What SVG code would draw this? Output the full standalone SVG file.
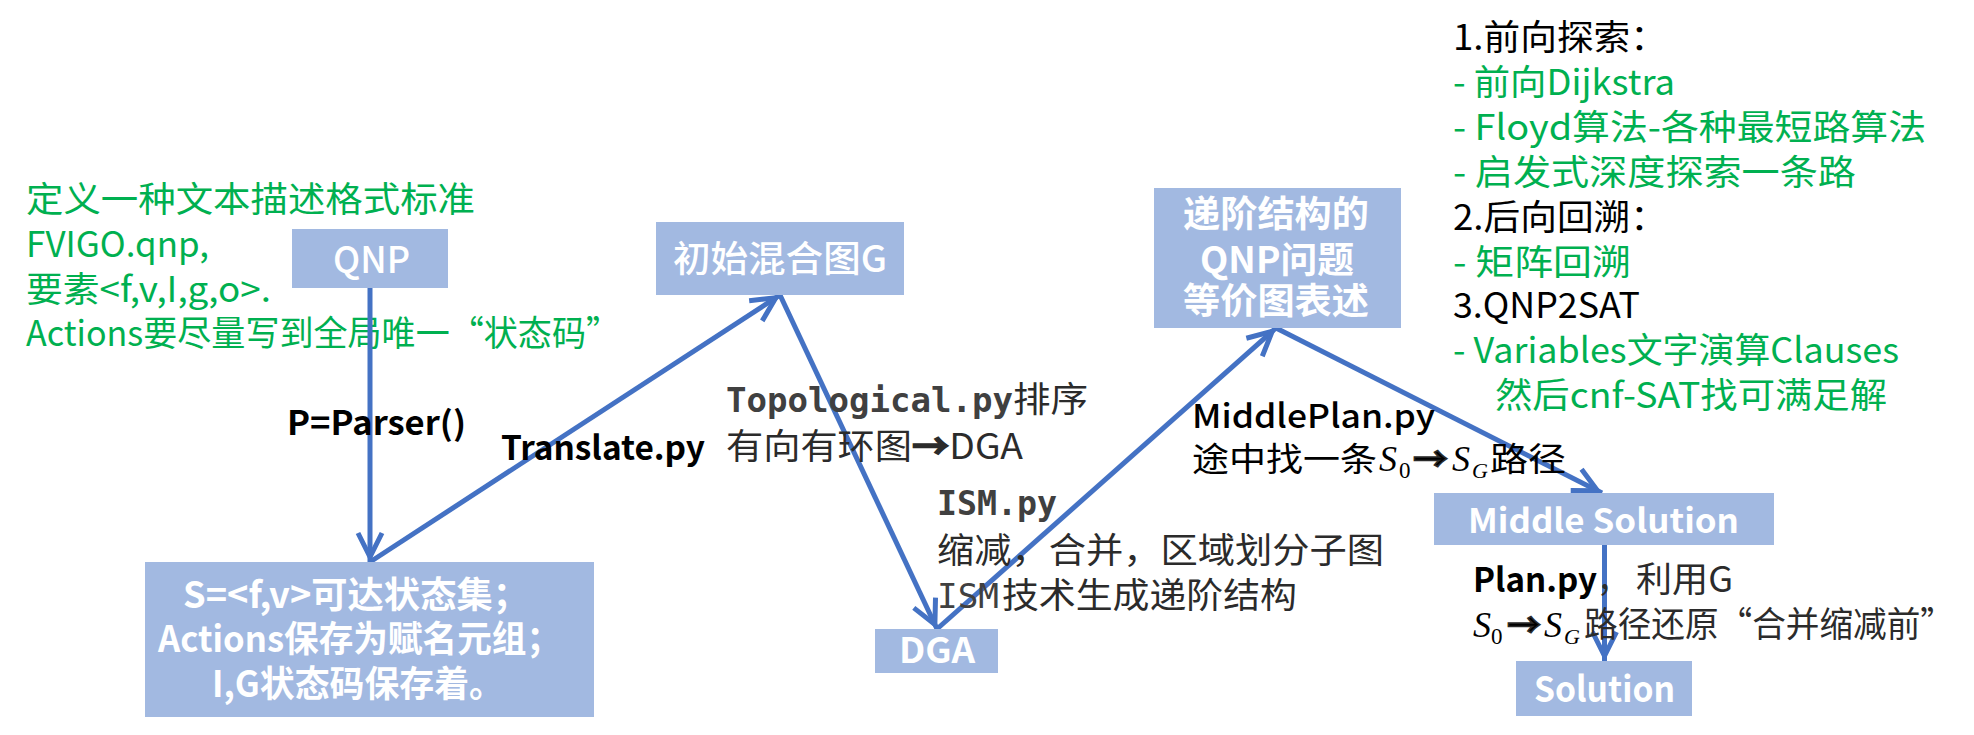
<svg xmlns="http://www.w3.org/2000/svg" width="1974" height="735" viewBox="0 0 1974 735">
<style>
.t{font-family:"Noto Sans CJK SC","Noto Sans",sans-serif;}
.g{fill:#00B050;font-size:35px;}
.k{fill:#000;font-size:35px;}
.box{fill:#A2B9E1;}
.bt{fill:#fff;font-weight:bold;}
.wt{fill:#fff;font-weight:500;}
.lab{fill:#000;font-size:33px;}
.gr{fill:#2b2b2b;font-size:35px;}
.mono{font-family:"DejaVu Sans Mono","Liberation Mono",monospace;fill:#404040;font-weight:bold;font-size:33px;}
.monor{font-family:"DejaVu Sans Mono","Liberation Mono",monospace;fill:#404040;font-weight:normal;font-size:33px;}
.ser{font-family:"Liberation Serif","DejaVu Serif",serif;fill:#000;}
.arr{stroke:#2b2b2b;stroke-width:1.5px;}
.conn line{stroke:#4472C4;stroke-width:5;fill:none;marker-end:url(#ah);}
</style>
<defs>
<marker id="ah" markerUnits="userSpaceOnUse" viewBox="-30 -20 40 40" markerWidth="40" markerHeight="40" refX="5" refY="0" orient="auto" overflow="visible">
<path d="M-24,-12 L0,0 L-24,12" fill="none" stroke="#4472C4" stroke-width="5"/>
</marker>
</defs>
<rect width="1974" height="735" fill="#fff"/>

<g id="note-left" class="t g">
<text x="26" y="212" textLength="449" lengthAdjust="spacingAndGlyphs">定义一种文本描述格式标准</text>
<text x="26" y="257" textLength="183" lengthAdjust="spacingAndGlyphs">FVIGO.qnp,</text>
<text x="26" y="302" textLength="245" lengthAdjust="spacingAndGlyphs">要素&lt;f,v,I,g,o&gt;.</text>
<text x="26" y="346" textLength="594" lengthAdjust="spacingAndGlyphs">Actions要尽量写到全局唯一“状态码”</text>
</g>

<g id="note-right" class="t">
<text class="k" x="1453" y="50" textLength="214" lengthAdjust="spacingAndGlyphs">1.前向探索：</text>
<text class="g" x="1453" y="95" textLength="222" lengthAdjust="spacingAndGlyphs">- 前向Dijkstra</text>
<text class="g" x="1453" y="140" textLength="473" lengthAdjust="spacingAndGlyphs">- Floyd算法-各种最短路算法</text>
<text class="g" x="1453" y="185" textLength="403" lengthAdjust="spacingAndGlyphs">- 启发式深度探索一条路</text>
<text class="k" x="1453" y="230" textLength="214" lengthAdjust="spacingAndGlyphs">2.后向回溯：</text>
<text class="g" x="1453" y="275" textLength="178" lengthAdjust="spacingAndGlyphs">- 矩阵回溯</text>
<text class="k" x="1453" y="318" textLength="187" lengthAdjust="spacingAndGlyphs">3.QNP2SAT</text>
<text class="g" x="1453" y="363" textLength="446" lengthAdjust="spacingAndGlyphs">- Variables文字演算Clauses</text>
<text class="g" x="1495" y="408" textLength="392" lengthAdjust="spacingAndGlyphs">然后cnf-SAT找可满足解</text>
</g>

<g id="conn" class="conn">
<line x1="370" y1="288" x2="370" y2="562"/>
<line x1="370" y1="562" x2="780" y2="295"/>
<line x1="780" y1="295" x2="937" y2="629"/>
<line x1="937" y1="629" x2="1276" y2="328"/>
<line x1="1276" y1="328" x2="1602" y2="493"/>
<line x1="1604.5" y1="545" x2="1604.5" y2="661"/>
</g>

<g id="node-qnp">
<rect class="box" x="292" y="229" width="156" height="59"/>
<text class="t wt" x="333" y="273" font-size="37" textLength="77" lengthAdjust="spacingAndGlyphs">QNP</text>
</g>

<g id="node-g">
<rect class="box" x="656" y="222" width="248" height="73"/>
<text class="t wt" x="673" y="272" font-size="36" textLength="214" lengthAdjust="spacingAndGlyphs">初始混合图G</text>
</g>

<g id="node-s">
<rect class="box" x="145" y="562" width="449" height="155"/>
<text class="t bt" x="183" y="608" font-size="36" textLength="346" lengthAdjust="spacingAndGlyphs">S=&lt;f,v&gt;可达状态集；</text>
<text class="t bt" x="158" y="652" font-size="36" textLength="403" lengthAdjust="spacingAndGlyphs">Actions保存为赋名元组；</text>
<text class="t bt" x="212" y="697" font-size="36" textLength="292" lengthAdjust="spacingAndGlyphs">I,G状态码保存着。</text>
</g>

<g id="node-dga">
<rect class="box" x="875" y="629" width="123" height="44"/>
<text class="t bt" x="899" y="663" font-size="35" textLength="76" lengthAdjust="spacingAndGlyphs">DGA</text>
</g>

<g id="node-ism">
<rect class="box" x="1154" y="188" width="247" height="140"/>
<text class="t bt" x="1183" y="227" font-size="36" textLength="186" lengthAdjust="spacingAndGlyphs">递阶结构的</text>
<text class="t bt" x="1200" y="273" font-size="36" textLength="154" lengthAdjust="spacingAndGlyphs">QNP问题</text>
<text class="t bt" x="1183" y="314" font-size="36" textLength="186" lengthAdjust="spacingAndGlyphs">等价图表述</text>
</g>

<g id="node-middle">
<rect class="box" x="1434" y="493" width="340" height="52"/>
<text class="t bt" x="1468" y="533" font-size="33" textLength="271" lengthAdjust="spacingAndGlyphs">Middle Solution</text>
</g>

<g id="node-solution">
<rect class="box" x="1516" y="661" width="176" height="55"/>
<text class="t bt" x="1534" y="702" font-size="35" textLength="141" lengthAdjust="spacingAndGlyphs">Solution</text>
</g>

<g id="labels" class="t">
<text class="lab" x="287" y="435" font-weight="bold" textLength="179" lengthAdjust="spacingAndGlyphs">P=Parser()</text>
<text class="lab" x="501" y="460" font-weight="bold" textLength="204" lengthAdjust="spacingAndGlyphs">Translate.py</text>

<text class="mono" x="726" y="412" textLength="287" lengthAdjust="spacingAndGlyphs">Topological.py</text>
<text class="gr" x="1013" y="412" textLength="75" lengthAdjust="spacingAndGlyphs">排序</text>
<text class="gr" x="726" y="459" textLength="297" lengthAdjust="spacingAndGlyphs">有向有环图<tspan class="arr" font-weight="bold">→</tspan>DGA</text>

<text class="mono" x="937" y="515" textLength="120" lengthAdjust="spacingAndGlyphs">ISM.py</text>
<text class="gr" x="937" y="563" textLength="447" lengthAdjust="spacingAndGlyphs">缩减，合并，区域划分子图</text>
<text class="monor" x="937" y="608" textLength="62" lengthAdjust="spacingAndGlyphs">ISM</text>
<text class="gr" x="1002" y="608" textLength="295" lengthAdjust="spacingAndGlyphs">技术生成递阶结构</text>

<text class="lab" x="1192" y="428" font-weight="500" textLength="243" lengthAdjust="spacingAndGlyphs">MiddlePlan.py</text>
<text class="lab" x="1192" y="471" font-size="35" textLength="185" lengthAdjust="spacingAndGlyphs">途中找一条</text>
<text class="ser" x="1379" y="471" font-size="36" font-style="italic">S</text>
<text class="ser" x="1399" y="478" font-size="23">0</text>
<text class="lab arr" x="1413" y="471" font-weight="bold" textLength="35" lengthAdjust="spacingAndGlyphs">→</text>
<text class="ser" x="1452" y="471" font-size="36" font-style="italic">S</text>
<text class="ser" x="1472" y="478" font-size="22" font-style="italic">G</text>
<text class="lab" x="1490" y="471" font-size="35" textLength="76" lengthAdjust="spacingAndGlyphs">路径</text>

<text class="lab" x="1473" y="592" font-size="35" font-weight="bold" textLength="124" lengthAdjust="spacingAndGlyphs">Plan.py</text>
<text class="gr" x="1597" y="592" textLength="32" lengthAdjust="spacingAndGlyphs">，</text>
<text class="gr" x="1636" y="592" textLength="97" lengthAdjust="spacingAndGlyphs">利用G</text>
<text class="ser" x="1473" y="637" font-size="36" font-style="italic">S</text>
<text class="ser" x="1491" y="644" font-size="23">0</text>
<text class="lab arr" x="1507" y="637" font-weight="bold" textLength="34" lengthAdjust="spacingAndGlyphs">→</text>
<text class="ser" x="1544" y="637" font-size="36" font-style="italic">S</text>
<text class="ser" x="1564" y="644" font-size="22" font-style="italic">G</text>
<text class="gr" x="1584" y="637" textLength="370" lengthAdjust="spacingAndGlyphs">路径还原“合并缩减前”</text>
</g>
</svg>
